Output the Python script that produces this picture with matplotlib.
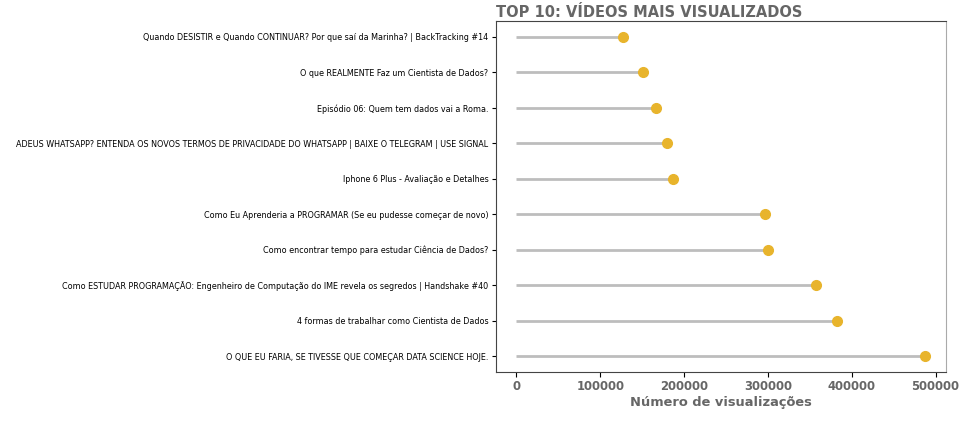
import matplotlib
matplotlib.use("Agg")
import matplotlib.pyplot as plt

titles = [
    "Quando DESISTIR e Quando CONTINUAR? Por que saí da Marinha? | BackTracking #14",
    "O que REALMENTE Faz um Cientista de Dados?",
    "Episódio 06: Quem tem dados vai a Roma.",
    "ADEUS WHATSAPP? ENTENDA OS NOVOS TERMOS DE PRIVACIDADE DO WHATSAPP | BAIXE O TELEGRAM | USE SIGNAL",
    "Iphone 6 Plus - Avaliação e Detalhes",
    "Como Eu Aprenderia a PROGRAMAR (Se eu pudesse começar de novo)",
    "Como encontrar tempo para estudar Ciência de Dados?",
    "Como ESTUDAR PROGRAMAÇÃO: Engenheiro de Computação do IME revela os segredos | Handshake #40",
    "4 formas de trabalhar como Cientista de Dados",
    "O QUE EU FARIA, SE TIVESSE QUE COMEÇAR DATA SCIENCE HOJE.",
]
views = [127000, 151000, 166000, 180000, 186500, 296000, 300500, 358000, 383000, 487700]

fig = plt.figure(figsize=(9.63, 4.21), dpi=100)
ax = fig.add_axes([0.515, 0.1164, 0.467, 0.834])

pos = list(range(len(titles)))
ax.hlines(y=pos, xmin=0, xmax=views, color="#bdbdbd", linewidth=2)
ax.plot(views, pos, "o", color="#e8b42c", markersize=7)
ax.invert_yaxis()

ax.set_yticks(pos)
ax.set_yticklabels(titles, fontsize=5.8, color="black")
ax.tick_params(axis="y", pad=2.5, length=3)
ax.tick_params(axis="x", labelsize=8.4, labelcolor="#666666", pad=2.5)
for lab in ax.get_xticklabels():
    lab.set_fontweight("bold")
ax.set_xlabel("Número de visualizações", fontsize=9.4, fontweight="bold", color="#666666",
              labelpad=2)
ax.set_title("TOP 10: VÍDEOS MAIS VISUALIZADOS", fontsize=10.5, fontweight="bold",
             color="#666666", loc="left", pad=3)
for s in ["top", "left", "bottom"]:
    ax.spines[s].set_color("#444444")
ax.spines["right"].set_color("#aaaaaa")

fig.savefig("out.png", dpi=100)
